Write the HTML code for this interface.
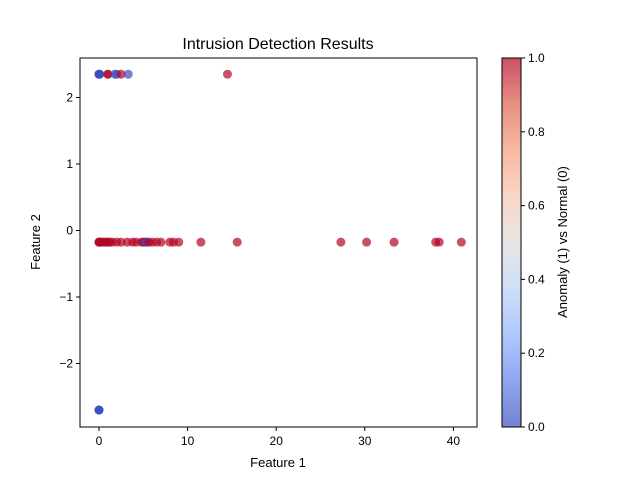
<!DOCTYPE html>
<html><head><meta charset="utf-8"><style>
body{margin:0;background:#fff}
svg{display:block;font-family:"Liberation Sans","DejaVu Sans",sans-serif}
</style></head><body>
<svg id="chart" width="640" height="480">
<defs><linearGradient id="cw" x1="0" y1="1" x2="0" y2="0">
<stop offset="0" stop-color="#3b4cc0"/><stop offset="0.125" stop-color="#5f7fe8"/><stop offset="0.25" stop-color="#8db0fe"/><stop offset="0.375" stop-color="#b9d0f9"/><stop offset="0.5" stop-color="#dddcdc"/><stop offset="0.625" stop-color="#f5c4ac"/><stop offset="0.75" stop-color="#f49a7b"/><stop offset="0.875" stop-color="#de604d"/><stop offset="1" stop-color="#b40426"/></linearGradient></defs>
<text x="278" y="49" font-size="16" text-anchor="middle">Intrusion Detection Results</text>
<g id="plot"></g>
<rect x="80" y="58" width="397" height="369" fill="none" stroke="#000" stroke-width="1"/>
<g id="axes"></g>
<text x="278" y="467" font-size="13" text-anchor="middle">Feature 1</text>
<text x="40" y="242" font-size="13" text-anchor="middle" transform="rotate(-90 40 242)">Feature 2</text>
<rect x="502" y="58" width="19" height="369" fill="url(#cw)" opacity="0.7"/>
<rect x="502" y="58" width="19" height="369" fill="none" stroke="#000"/>
<g id="cbar"></g>
<text x="567" y="242" font-size="13" text-anchor="middle" transform="rotate(-90 567 242)">Anomaly (1) vs Normal (0)</text>
</svg>
<script>
const xTicks=[0,10,20,30,40];
const yTicks=[-2,-1,0,1,2];
const cTicks=[0,0.2,0.4,0.6,0.8,1.0];
const topX=[0,0,0,0.1,1,1,1.8,2,2.5,3.3,14.5];
const topC=[0,0,0,0,1,1,0,0,1,0,1];
const midX=[0,0,0,0.1,0.3,0.5,0.7,0.9,1,1.2,1.5,2,2.5,3.2,3.8,4.2,4.8,5,5.2,5.3,5.4,5.6,6,6.5,7,8,8.4,9,11.5,15.6,27.3,30.2,33.3,38,38.4,40.9];
const midC=[0,0,1,1,1,1,1,1,1,1,1,1,1,1,1,1,1,1,1,0,0,1,1,1,1,1,1,1,1,1,1,1,1,1,1,1];
const botX=[0,0,0];
const botC=[0,0,0];
const rowY=[2.35,-0.175,-2.70];
const NS='http://www.w3.org/2000/svg';
const sx=v=>99+v*8.86, sy=v=>230.5-v*66.5, cy=v=>427-v*369;
function el(t,a,p){const e=document.createElementNS(NS,t);for(const k in a)e.setAttribute(k,a[k]);p.appendChild(e);return e;}
const plot=document.getElementById('plot'),axes=document.getElementById('axes'),cb=document.getElementById('cbar');
[[topX,topC,rowY[0]],[midX,midC,rowY[1]],[botX,botC,rowY[2]]].forEach(([xs,cs,y])=>{
xs.forEach((x,i)=>{const c=el('circle',{cx:sx(x),cy:sy(y),r:4.5,fill:cs[i]?'#b40426':'#3b4cc0','fill-opacity':0.7},plot);

});});
xTicks.forEach(t=>{const x=sx(t);el('line',{x1:x,x2:x,y1:427,y2:431,stroke:'#000'},axes);
const tx=el('text',{x:x,y:445,'font-size':12,'text-anchor':'middle'},axes);tx.textContent=t;

});
yTicks.forEach(t=>{const y=sy(t);el('line',{x1:76,x2:80,y1:y,y2:y,stroke:'#000'},axes);
const tx=el('text',{x:73,y:y+4,'font-size':12,'text-anchor':'end'},axes);tx.textContent=(t<0?'\u2212'+(-t):t);

});
cTicks.forEach(t=>{const y=cy(t);el('line',{x1:521,x2:525,y1:y,y2:y,stroke:'#000'},cb);
const tx=el('text',{x:528,y:y+4,'font-size':12},cb);tx.textContent=t.toFixed(1);

});
</script>
</body></html>
